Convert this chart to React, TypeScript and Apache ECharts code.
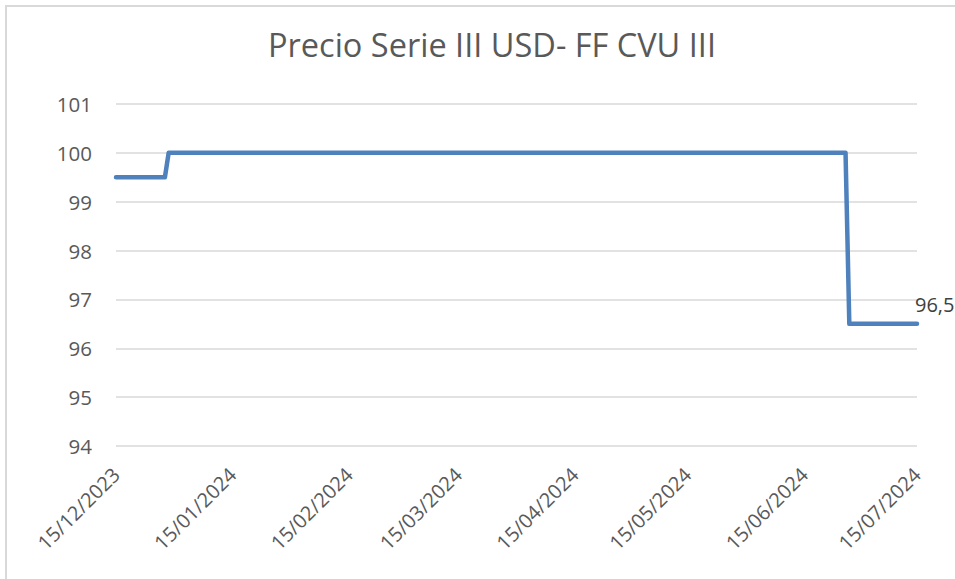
import React, { useEffect, useRef } from "react";
import * as echarts from "echarts";

const title = "Precio Serie III USD- FF CVU III";
const dates = ["2023-12-15", "2023-12-28", "2023-12-29", "2024-06-26", "2024-06-27", "2024-07-15"];
const prices = [99.5, 99.5, 100, 100, 96.5, 96.5];
const tickDates = [
  "2023-12-15", "2024-01-15", "2024-02-15", "2024-03-15",
  "2024-04-15", "2024-05-15", "2024-06-15", "2024-07-15",
];
const yMin = 94;
const yMax = 101;
const lastLabel = "96,5";

const toTs = (s: string) => {
  const [y, m, d] = s.split("-").map(Number);
  return Date.UTC(y, m - 1, d);
};
const pad = (n: number) => (n < 10 ? "0" + n : "" + n);
const fmt = (v: number) => {
  const d = new Date(v);
  return pad(d.getUTCDate()) + "/" + pad(d.getUTCMonth() + 1) + "/" + d.getUTCFullYear();
};

const FONT = "'Open Sans', sans-serif";

export default function App() {
  const ref = useRef<HTMLDivElement>(null);
  useEffect(() => {
    if (!ref.current) return;
    const chart = echarts.init(ref.current, undefined, { renderer: "svg" });
    const data = dates.map((d, i) => {
      const item: any = { value: [toTs(d), prices[i]] };
      if (i === dates.length - 1) {
        item.label = {
          show: true,
          position: "right",
          distance: 0,
          offset: [-2, -19],
          formatter: () => lastLabel,
          color: "#404040",
          fontSize: 20,
          fontFamily: FONT,
        };
      }
      return item;
    });
    chart.setOption({
      animation: false,
      backgroundColor: "#ffffff",
      title: {
        text: title,
        left: 487,
        top: 23,
        textAlign: "center",
        textStyle: { color: "#595959", fontSize: 32.5, fontWeight: "normal", fontFamily: FONT },
      },
      grid: { left: 116, right: 38, top: 104, bottom: 133, containLabel: false },
      xAxis: {
        type: "value",
        scale: true,
        min: toTs(tickDates[0]),
        max: toTs(tickDates[tickDates.length - 1]),
        axisLine: { show: false },
        axisTick: { show: false },
        splitLine: { show: false },
        axisLabel: {
          customValues: tickDates.map(toTs),
          formatter: (v: number) => fmt(v),
          rotate: 45,
          margin: 25,
          color: "#595959",
          fontSize: 20,
          fontFamily: FONT,
          hideOverlap: false,
        },
      },
      yAxis: {
        type: "value",
        min: yMin,
        max: yMax,
        interval: 1,
        axisLine: { show: false },
        axisTick: { show: false },
        axisLabel: { color: "#595959", fontSize: 20.5, fontFamily: FONT, margin: 24 },
        splitLine: { lineStyle: { color: "#d9d9d9", width: 1.5 } },
      },
      series: [
        {
          type: "line",
          data,
          symbol: "circle",
          symbolSize: 0,
          showSymbol: true,
          lineStyle: { color: "#4f81bd", width: 4.5, cap: "round", join: "round" },
          itemStyle: { color: "#4f81bd" },
        },
      ],
      graphic: [
        {
          type: "rect",
          shape: { x: 6, y: 6, width: 1100, height: 1100 },
          style: { fill: "none", stroke: "#d9d9d9", lineWidth: 2 },
          silent: true,
        },
      ],
    });
    return () => chart.dispose();
  }, []);
  return (
    <div
      ref={ref}
      style={{ position: "absolute", left: 0, top: 0, width: 955, height: 579 }}
    />
  );
}
